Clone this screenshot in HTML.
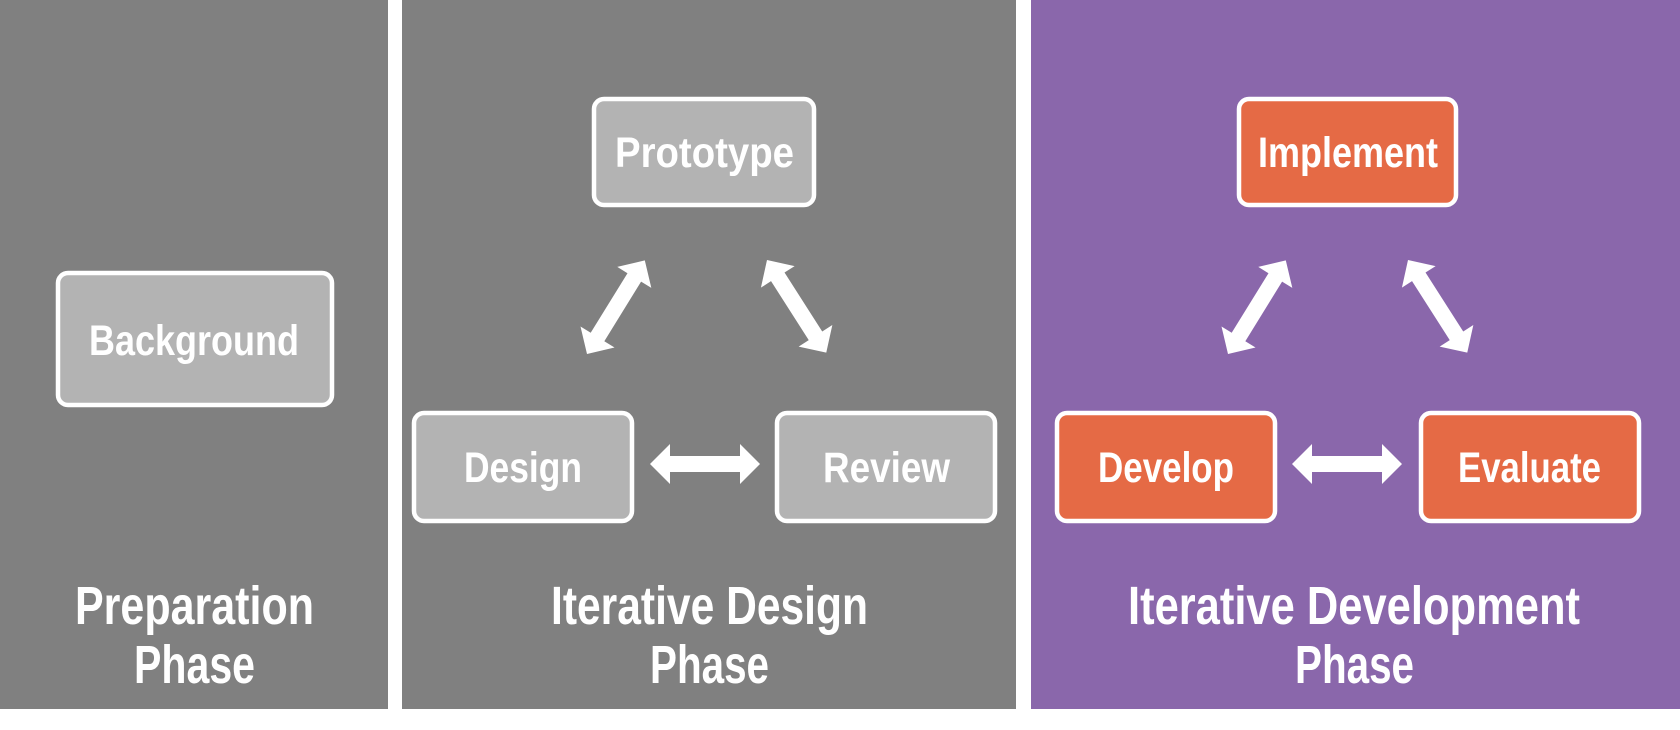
<!DOCTYPE html>
<html><head><meta charset="utf-8"><style>
html,body{margin:0;padding:0;background:#fff;}
svg{display:block;}
text{font-family:"Liberation Sans Narrow","Liberation Sans",sans-serif;font-weight:bold;fill:#fff;}
</style></head><body>
<svg width="1680" height="730" viewBox="0 0 1680 730" xmlns="http://www.w3.org/2000/svg">
<defs>
<polygon id="arr" points="0,0 20,-20 20,-8 90,-8 90,-20 110,0 90,20 90,8 20,8 20,20" fill="#fff"/>
</defs>
<rect x="0" y="0" width="388" height="709" fill="#808080"/>
<rect x="402" y="0" width="614" height="709" fill="#808080"/>
<rect x="1031" y="0" width="649" height="709" fill="#8a67ab"/>

<g stroke="#fff" stroke-width="4.5">
<rect x="58" y="273" width="274" height="132" rx="10" fill="#b3b3b3"/>
<rect x="594" y="99" width="220" height="106" rx="10" fill="#b3b3b3"/>
<rect x="414" y="413" width="218" height="108" rx="10" fill="#b3b3b3"/>
<rect x="777" y="413" width="218" height="108" rx="10" fill="#b3b3b3"/>
<rect x="1239" y="99" width="217" height="106" rx="10" fill="#e56a45"/>
<rect x="1057" y="413" width="218" height="108" rx="10" fill="#e56a45"/>
<rect x="1421" y="413" width="218" height="108" rx="10" fill="#e56a45"/>
</g>

<g font-size="43">
<text x="89" y="355" textLength="210" lengthAdjust="spacingAndGlyphs">Background</text>
<text x="615" y="167" textLength="179" lengthAdjust="spacingAndGlyphs">Prototype</text>
<text x="464" y="482" textLength="118" lengthAdjust="spacingAndGlyphs">Design</text>
<text x="823" y="482" textLength="127" lengthAdjust="spacingAndGlyphs">Review</text>
<text x="1258" y="167" textLength="180" lengthAdjust="spacingAndGlyphs">Implement</text>
<text x="1098" y="482" textLength="136" lengthAdjust="spacingAndGlyphs">Develop</text>
<text x="1458" y="482" textLength="143" lengthAdjust="spacingAndGlyphs">Evaluate</text>
</g>

<g font-size="54">
<text x="75" y="624" textLength="239" lengthAdjust="spacingAndGlyphs">Preparation</text>
<text x="134" y="683" textLength="121" lengthAdjust="spacingAndGlyphs">Phase</text>
<text x="551" y="624" textLength="317" lengthAdjust="spacingAndGlyphs">Iterative Design</text>
<text x="650" y="683" textLength="119" lengthAdjust="spacingAndGlyphs">Phase</text>
<text x="1128" y="624" textLength="452" lengthAdjust="spacingAndGlyphs">Iterative Development</text>
<text x="1295" y="683" textLength="119" lengthAdjust="spacingAndGlyphs">Phase</text>
</g>

<use href="#arr" transform="translate(650,464)"/>
<use href="#arr" transform="translate(1292,464)"/>
<use href="#arr" transform="translate(587,354) rotate(-58.3)"/>
<use href="#arr" transform="translate(767,260) rotate(57.4)"/>
<use href="#arr" transform="translate(1228,354) rotate(-58.3)"/>
<use href="#arr" transform="translate(1408,260) rotate(57.4)"/>
</svg>
</body></html>
